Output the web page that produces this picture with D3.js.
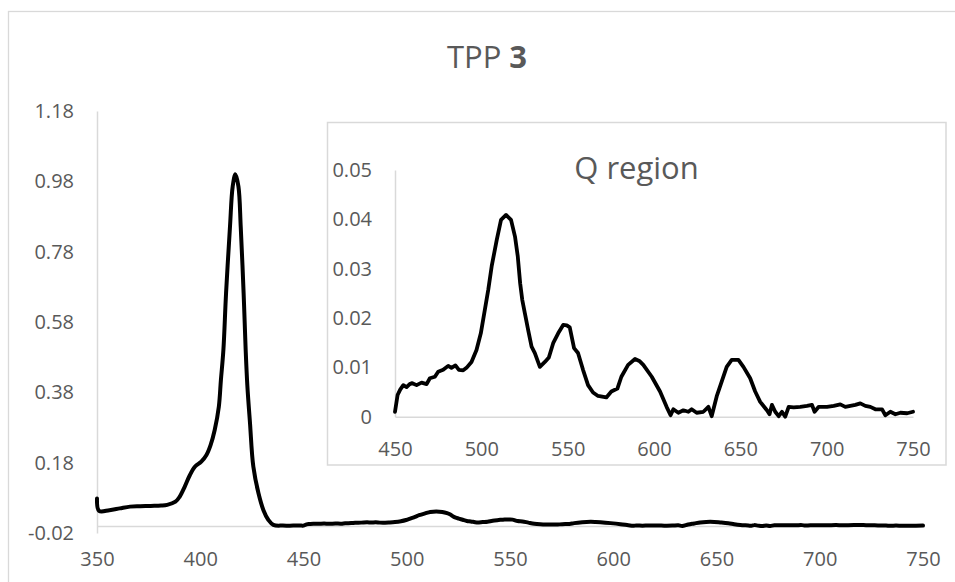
<!DOCTYPE html>
<html>
<head>
<meta charset="utf-8">
<script src="https://cdn.jsdelivr.net/npm/d3@7"></script>
<style>
  html, body { margin: 0; padding: 0; background: #fff; }
  svg { display: block; }
  text { font-family: "Open Sans", sans-serif; fill: #595959; }
</style>
</head>
<body>
<svg id="chart" width="955" height="582"></svg>
<script>
// ---------- DATA ----------
// Soret region (350–449 nm), normalised absorbance
const soretWl  = [350, 351, 356, 361, 366, 371, 376, 381, 384, 388, 390, 392.5, 395, 397.5, 400.5, 403, 405, 407, 409, 410, 411.2, 412.5, 414.4, 415.7, 417, 418.5, 419.6, 421, 422, 422.8, 424.1, 425.7, 428.2, 430.6, 433, 435.4, 440, 445, 449];
const soretAbs = [0.078, 0.043, 0.045, 0.050, 0.055, 0.056, 0.057, 0.058, 0.060, 0.069, 0.083, 0.112, 0.145, 0.169, 0.183, 0.202, 0.230, 0.273, 0.339, 0.415, 0.500, 0.662, 0.851, 0.965, 1.000, 0.965, 0.851, 0.662, 0.500, 0.400, 0.292, 0.169, 0.093, 0.045, 0.017, 0.003, 0.001, 0.001, 0.001];

// Q region (450–750 nm)
const qWl  = [450, 451.5, 453, 454.8, 456.7, 458.5, 460, 462.5, 465.4, 468.3, 470.2, 473.1, 475, 477.9, 480.8, 482.7, 485, 487, 489.5, 491.4, 494.3, 497.2, 499.7, 502, 504, 506, 508.9, 511.4, 514.3, 517.2, 519.5, 521.1, 522.5, 523.7, 525.2, 527.1, 529.1, 531, 533.9, 536.8, 539.1, 541.6, 544.5, 547.4, 549.5, 551.2, 553.7, 556, 558.9, 561.8, 564.7, 567.6, 572.4, 575.3, 578.8, 581.1, 585, 589, 591.5, 593.8, 598.7, 603.5, 607.3, 609.6, 611.2, 614.1, 617, 619.9, 621.8, 624.7, 628.6, 631.5, 633.4, 636.3, 639.2, 642.1, 645, 648.9, 651.8, 655.7, 658.6, 661.5, 665.4, 666.9, 668.3, 670.2, 672.2, 674.1, 676, 678, 680.9, 684.7, 688.6, 691.5, 693, 695.4, 700.2, 704.1, 707.9, 710.8, 713.7, 716.6, 719.5, 722.4, 725.3, 728.2, 732.1, 734, 736.9, 739.8, 742.7, 746.6, 750];
const qAbs = [0.0010, 0.0044, 0.0055, 0.0064, 0.0060, 0.0066, 0.0068, 0.0064, 0.0069, 0.0066, 0.0078, 0.0081, 0.0091, 0.0095, 0.0103, 0.0099, 0.0104, 0.0095, 0.0094, 0.0099, 0.0111, 0.0135, 0.0169, 0.0216, 0.0257, 0.0305, 0.0358, 0.0399, 0.0409, 0.0399, 0.0365, 0.0325, 0.0270, 0.0237, 0.0210, 0.0176, 0.0142, 0.0129, 0.0101, 0.0111, 0.0120, 0.0149, 0.0169, 0.0186, 0.0185, 0.0181, 0.0139, 0.0129, 0.0095, 0.0064, 0.0049, 0.0042, 0.0039, 0.0051, 0.0057, 0.0081, 0.0105, 0.0117, 0.0113, 0.0105, 0.0081, 0.0051, 0.0020, 0.0003, 0.0015, 0.0008, 0.0013, 0.0010, 0.0015, 0.0008, 0.0010, 0.0020, 0.0001, 0.0041, 0.0071, 0.0101, 0.0115, 0.0115, 0.0101, 0.0078, 0.0051, 0.0030, 0.0013, 0.0005, 0.0024, 0.0010, 0.0001, 0.0010, 0.0000, 0.0020, 0.0019, 0.0020, 0.0022, 0.0024, 0.0010, 0.0020, 0.0020, 0.0022, 0.0025, 0.0020, 0.0022, 0.0024, 0.0027, 0.0022, 0.0020, 0.0015, 0.0015, 0.0003, 0.0010, 0.0005, 0.0008, 0.0007, 0.0010];

// Axis ticks / labels
const mainXTicks = [350, 400, 450, 500, 550, 600, 650, 700, 750];
const mainYTicks = [-0.02, 0.18, 0.38, 0.58, 0.78, 0.98, 1.18];
const mainYLabels = ["-0.02", "0.18", "0.38", "0.58", "0.78", "0.98", "1.18"];
const insetXTicks = [450, 500, 550, 600, 650, 700, 750];
const insetYTicks = [0, 0.01, 0.02, 0.03, 0.04, 0.05];
const insetYLabels = ["0", "0.01", "0.02", "0.03", "0.04", "0.05"];

const mainTitle = "TPP ";
const mainTitleBold = "3";
const insetTitle = "Q region";

// ---------- DRAW ----------
const svg = d3.select("#chart");
const axisColor = "#d9d9d9";
const textColor = "#595959";

// outer chart border
svg.append("rect").attr("x", 8.5).attr("y", 11.5).attr("width", 960).attr("height", 600)
  .attr("fill", "#fff").attr("stroke", axisColor).attr("stroke-width", 1.3);

// main title
const t = svg.append("text").attr("x", 487).attr("y", 68).attr("text-anchor", "middle")
  .attr("font-size", 31);
t.append("tspan").text(mainTitle);
t.append("tspan").attr("font-weight", "bold").text(mainTitleBold);

// main scales
const x = d3.scaleLinear().domain([350, 750]).range([97, 923]);
const y = d3.scaleLinear().domain([-0.02, 1.18]).range([533, 111]);

function styleAxis(g) {
  g.selectAll(".domain").attr("stroke", axisColor).attr("stroke-width", 1.5);
  g.selectAll(".tick line").remove();
  g.selectAll(".tick text").attr("fill", textColor).attr("font-size", 20)
    .attr("font-family", "'Open Sans', sans-serif");
}

// main y axis
svg.append("g").attr("transform", "translate(97,0)")
  .call(d3.axisLeft(y).tickValues(mainYTicks).tickFormat((d, i) => mainYLabels[i])
    .tickSize(0).tickPadding(23))
  .call(styleAxis);

// main x axis at y = 0
svg.append("g").attr("transform", `translate(0,${y(0)})`)
  .call(d3.axisBottom(x).tickValues(mainXTicks).tickFormat(d3.format("d"))
    .tickSize(0).tickPadding(26))
  .call(styleAxis);

// main curve
const mainData = soretWl.map((w, i) => [w, soretAbs[i]])
  .concat(qWl.map((w, i) => [w, qAbs[i]]));
svg.append("path").datum(mainData)
  .attr("fill", "none").attr("stroke", "#000").attr("stroke-width", 4)
  .attr("stroke-linejoin", "round").attr("stroke-linecap", "round")
  .attr("d", d3.line().x(d => x(d[0])).y(d => y(d[1])).curve(d3.curveCatmullRom.alpha(0.5)));

// ---------- INSET ----------
svg.append("rect").attr("x", 327.5).attr("y", 122.5).attr("width", 618.5).attr("height", 342.5)
  .attr("fill", "#fff").attr("stroke", axisColor).attr("stroke-width", 1.5);

svg.append("text").attr("x", 636.5).attr("y", 179).attr("text-anchor", "middle")
  .attr("font-size", 31).text(insetTitle);

const xi = d3.scaleLinear().domain([450, 750]).range([395, 913]);
const yi = d3.scaleLinear().domain([0, 0.05]).range([416.7, 170]);

svg.append("g").attr("transform", "translate(395,0)")
  .call(d3.axisLeft(yi).tickValues(insetYTicks).tickFormat((d, i) => insetYLabels[i])
    .tickSize(0).tickPadding(23))
  .call(styleAxis);

svg.append("g").attr("transform", `translate(0,${yi(0)})`)
  .call(d3.axisBottom(xi).tickValues(insetXTicks).tickFormat(d3.format("d"))
    .tickSize(0).tickPadding(25))
  .call(styleAxis);

const insetData = qWl.map((w, i) => [w, qAbs[i]]);
svg.append("path").datum(insetData)
  .attr("fill", "none").attr("stroke", "#000").attr("stroke-width", 3.8)
  .attr("stroke-linejoin", "round").attr("stroke-linecap", "round")
  .attr("d", d3.line().x(d => xi(d[0])).y(d => yi(d[1])).curve(d3.curveLinear));
</script>
</body>
</html>
